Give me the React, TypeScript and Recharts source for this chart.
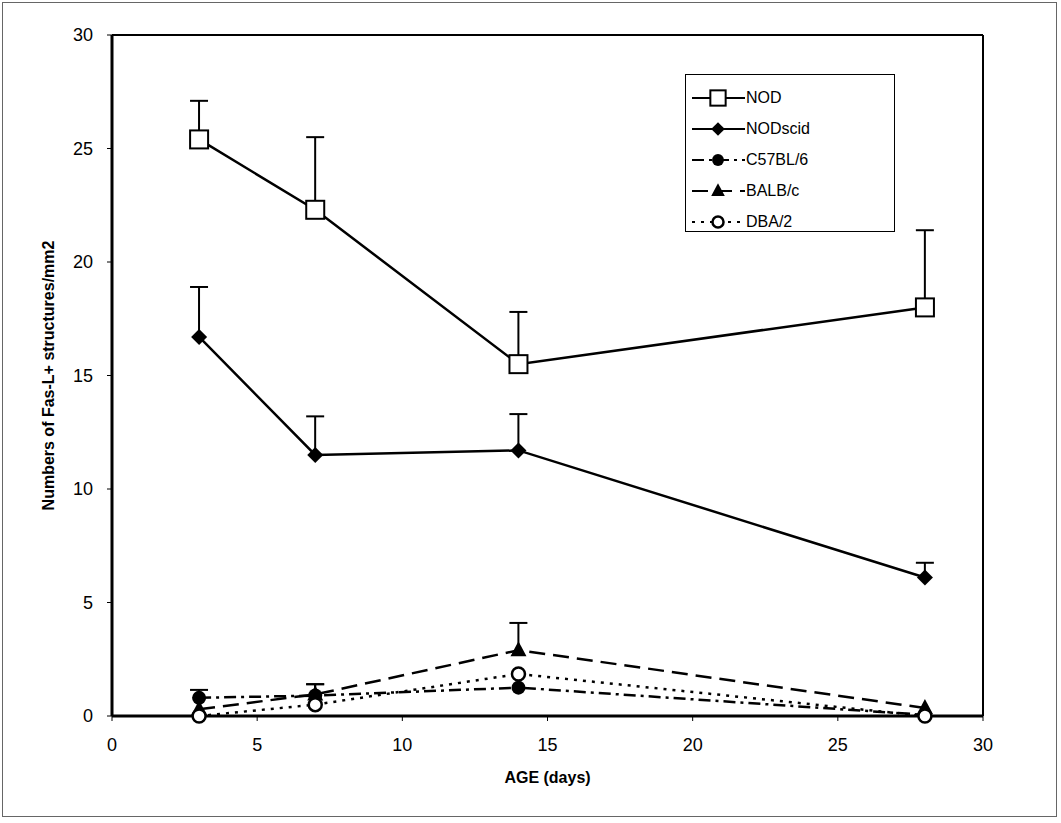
import React from "react";
import {
  ComposedChart,
  Line,
  Bar,
  XAxis,
  YAxis,
  ReferenceLine,
} from "recharts";

// Age in days, shared by all strains
const ages = [3, 7, 14, 28];

// Fas-L+ structures per mm2 (mean) and upward error (SEM)
const nodMean = [25.4, 22.3, 15.5, 18.0];
const nodErr = [1.7, 3.2, 2.3, 3.4];
const scidMean = [16.7, 11.5, 11.7, 6.1];
const scidErr = [2.2, 1.7, 1.6, 0.65];
const c57Mean = [0.8, 0.9, 1.25, 0.05];
const c57Err = [0.35, 0.5, null, null];
const balbMean = [0.3, 0.95, 2.9, 0.35];
const balbErr = [null, 0.45, 1.2, null];
const dbaMean = [0, 0.5, 1.85, 0];

const xTicks = [0, 5, 10, 15, 20, 25, 30];
const yTicks = [0, 5, 10, 15, 20, 25, 30];

// upward-only error bar, drawn as a range [mean, mean + err]
const range = (m: number, e: number | null) => (e == null ? null : [m, m + e]);

const data = ages.map((age, i) => ({
  age,
  nod: nodMean[i],
  nodRange: range(nodMean[i], nodErr[i]),
  scid: scidMean[i],
  scidRange: range(scidMean[i], scidErr[i]),
  c57: c57Mean[i],
  c57Range: range(c57Mean[i], c57Err[i]),
  balb: balbMean[i],
  balbRange: range(balbMean[i], balbErr[i]),
  dba: dbaMean[i],
}));

const FONT = '"Liberation Sans", Arial, sans-serif';

type Shape = "square" | "diamond" | "circle" | "triangle" | "openCircle";

function Marker({ shape, cx, cy, s = 1 }: { shape: Shape; cx: number; cy: number; s?: number }) {
  switch (shape) {
    case "square":
      return <rect x={cx - 9 * s} y={cy - 9 * s} width={18 * s} height={18 * s} fill="#fff" stroke="#000" strokeWidth={2} />;
    case "diamond":
      return <polygon points={`${cx},${cy - 8 * s} ${cx + 8 * s},${cy} ${cx},${cy + 8 * s} ${cx - 8 * s},${cy}`} fill="#000" />;
    case "circle":
      return <circle cx={cx} cy={cy} r={7 * s} fill="#000" />;
    case "triangle":
      return <polygon points={`${cx},${cy - 9 * s} ${cx + 8 * s},${cy + 6 * s} ${cx - 8 * s},${cy + 6 * s}`} fill="#000" />;
    default:
      return <circle cx={cx} cy={cy} r={6.5 * s} fill="#fff" stroke="#000" strokeWidth={2.5} />;
  }
}

const dotFor = (shape: Shape) => (p: any) =>
  <Marker key={`${shape}-${p.index}`} shape={shape} cx={p.cx} cy={p.cy} />;

function Whisker(p: any) {
  const { x, y, width, height } = p;
  if (x == null || y == null || !height) return <g />;
  const mid = x + width / 2;
  return (
    <g>
      <line x1={mid} y1={y} x2={mid} y2={y + height} stroke="#000" strokeWidth={2} />
      <line x1={x} y1={y} x2={x + width} y2={y} stroke="#000" strokeWidth={2} />
    </g>
  );
}

const SERIES: { key: string; label: string; shape: Shape; dash?: string; err?: string }[] = [
  { key: "nod", label: "NOD", shape: "square", err: "nodRange" },
  { key: "scid", label: "NODscid", shape: "diamond", err: "scidRange" },
  { key: "c57", label: "C57BL/6", shape: "circle", dash: "12 5 3 5", err: "c57Range" },
  { key: "balb", label: "BALB/c", shape: "triangle", dash: "16 8", err: "balbRange" },
  { key: "dba", label: "DBA/2", shape: "openCircle", dash: "3 6" },
];

const errSeries = SERIES.filter((s) => s.err);

function LegendBox() {
  return (
    <div
      style={{
        position: "absolute",
        left: 685,
        top: 74,
        width: 210,
        height: 158,
        border: "1px solid #000",
        background: "#fff",
        boxSizing: "border-box",
        paddingTop: 7,
        fontFamily: FONT,
        fontSize: 16,
      }}
    >
      {SERIES.map((s) => (
        <div key={s.key} style={{ display: "flex", alignItems: "center", height: 31 }}>
          <svg width={58} height={24} style={{ marginLeft: 2 }}>
            <line x1={4} y1={12} x2={57} y2={12} stroke="#000" strokeWidth={2} strokeDasharray={s.dash} />
            <Marker shape={s.shape} cx={30} cy={12} s={0.85} />
          </svg>
          <span>{s.label}</span>
        </div>
      ))}
    </div>
  );
}

export default function App() {
  return (
    <div style={{ position: "absolute", left: 0, top: 0, width: 1061, height: 823, background: "#fff" }}>
      <div
        style={{
          position: "absolute",
          left: 2,
          top: 2,
          width: 1055,
          height: 815,
          border: "1px solid #666",
          boxSizing: "border-box",
        }}
      />
      <ComposedChart
        width={1061}
        height={823}
        data={data}
        margin={{ top: 35, right: 78, bottom: 32, left: 52 }}
        style={{ position: "absolute", left: 0, top: 0, fontFamily: FONT }}
      >
        <XAxis
          xAxisId="main"
          dataKey="age"
          type="number"
          domain={[0, 30]}
          ticks={xTicks}
          height={75}
          tickSize={5}
          tickMargin={17}
          tick={{ fontSize: 18, fill: "#000", fontFamily: FONT }}
          axisLine={{ stroke: "#000", strokeWidth: 3 }}
          tickLine={{ stroke: "#000", strokeWidth: 1 }}
          label={{
            value: "AGE (days)",
            position: "insideBottom",
            offset: 8,
            style: { fontSize: 16, fontWeight: "bold", fill: "#000", fontFamily: FONT },
          }}
        />
        {errSeries.map((s) => (
          <XAxis
            key={s.key}
            xAxisId={s.key}
            dataKey="age"
            type="number"
            domain={[0, 30]}
            orientation="top"
            height={0}
            hide
          />
        ))}
        <YAxis
          type="number"
          domain={[0, 30]}
          ticks={yTicks}
          width={60}
          tickSize={5}
          tickMargin={14}
          tick={{ fontSize: 18, fill: "#000", fontFamily: FONT }}
          axisLine={{ stroke: "#000", strokeWidth: 3 }}
          tickLine={{ stroke: "#000", strokeWidth: 1 }}
          label={{
            value: "Numbers of Fas-L+ structures/mm2",
            angle: -90,
            position: "insideLeft",
            offset: -4,
            style: { fontSize: 16, fontWeight: "bold", fill: "#000", textAnchor: "middle", fontFamily: FONT },
          }}
        />
        <ReferenceLine xAxisId="main" y={30} stroke="#000" strokeWidth={2} />
        <ReferenceLine xAxisId="main" x={30} stroke="#000" strokeWidth={2} />
        {errSeries.map((s) => (
          <Bar
            key={s.key + "-err"}
            xAxisId={s.key}
            dataKey={s.err as string}
            barSize={18}
            shape={Whisker}
            isAnimationActive={false}
          />
        ))}
        {SERIES.map((s) => (
          <Line
            key={s.key}
            xAxisId="main"
            type="linear"
            dataKey={s.key}
            name={s.label}
            stroke="#000"
            strokeWidth={2.5}
            strokeDasharray={s.dash}
            dot={dotFor(s.shape)}
            activeDot={false}
            isAnimationActive={false}
          />
        ))}
      </ComposedChart>
      <LegendBox />
    </div>
  );
}
